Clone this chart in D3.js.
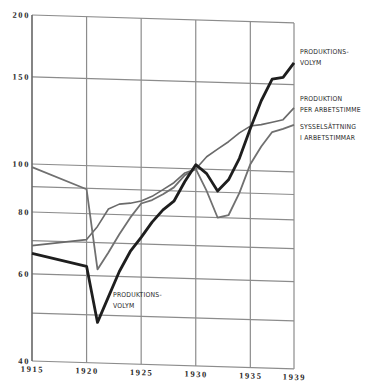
<!DOCTYPE html>
<html><head><meta charset="utf-8">
<script src="https://cdn.jsdelivr.net/npm/d3@7"></script>
<style>body{margin:0;background:#fff}svg{display:block}</style>
</head><body>
<svg id="c" width="381" height="382"></svg>
<script>
const years = [1915,1920,1921,1922,1923,1924,1925,1926,1927,1928,1929,1930,1931,1932,1933,1934,1935,1936,1937,1938,1939];
const produktionsvolym = [66,62.6,48.3,54.5,61.4,67.5,72.2,77.6,82.3,85.8,94.2,102,98,90.5,95.5,105.7,121.6,138.6,153.5,155,166];
const sysselsattning = [98.6,89.6,61.8,67,73,79,84.5,86,88.5,91.5,97,100,90.4,80,81,90,103,112,120,122,124.4];
const perArbetstimme = [68.4,70.9,75.5,82,84,84.5,85.5,87.5,90.4,93.5,98,100,106,110,114,119,123,124,125.6,127.3,134.7];
const yTicks = [40,60,80,100,150,200];
const yGrid = [40,50,60,70,80,90,100,150,200];
const xTicks = [1915,1920,1925,1930,1935,1939];

const svg = d3.select("#c");
const x = d3.scaleLinear().domain([1915,1939]).range([32,294]);
const y = d3.scaleLog().domain([40,200]).range([361,15]);
const s = 0.03;
const g = svg.append("g").attr("transform", `matrix(1,${s},0,1,0,${-32*s})`);

g.selectAll(".hg").data(yGrid).join("line")
  .attr("x1", x(1915)).attr("x2", x(1939))
  .attr("y1", d=>y(d)).attr("y2", d=>y(d))
  .attr("stroke", "#8c8c8c").attr("stroke-width", 1.2);
g.selectAll(".vg").data(xTicks).join("line")
  .attr("x1", d=>x(d)).attr("x2", d=>x(d))
  .attr("y1", y(200)).attr("y2", y(40))
  .attr("stroke", d=> d===1915 ? "#666" : "#8c8c8c").attr("stroke-width", d=> d===1915 ? 1.6 : 1.2);

const tickStyle = sel => sel.attr("font-family","Liberation Serif").attr("font-weight","bold")
  .attr("font-size",8.5).attr("letter-spacing",1.6).attr("fill","#2a2a2a");

const yAxis = d3.axisLeft(y).tickValues(yTicks).tickFormat(d3.format("d")).tickSize(0).tickPadding(2);
const ya = g.append("g").attr("transform", `translate(${x(1915)},0)`).call(yAxis);
ya.select(".domain").remove();
ya.selectAll("text").call(tickStyle);

const xAxis = d3.axisBottom(x).tickValues(xTicks).tickFormat(d3.format("d")).tickSize(0).tickPadding(5);
const xa = g.append("g").attr("transform", `translate(0,${y(40)})`).call(xAxis);
xa.select(".domain").remove();
xa.selectAll("text").call(tickStyle);

const line = vals => d3.line().x((d,i)=>x(years[i])).y(d=>y(d))(vals);
g.append("path").attr("d", line(perArbetstimme)).attr("fill","none").attr("stroke","#6a6a6a").attr("stroke-width",1.6).attr("stroke-linejoin","round");
g.append("path").attr("d", line(sysselsattning)).attr("fill","none").attr("stroke","#707070").attr("stroke-width",1.8).attr("stroke-linejoin","round");
g.append("path").attr("d", line(produktionsvolym)).attr("fill","none").attr("stroke","#1e1e1e").attr("stroke-width",2.8).attr("stroke-linejoin","round");

const labels = [
  {t:["PRODUKTIONS-","VOLYM"], x:300, y:52},
  {t:["PRODUKTION","PER ARBETSTIMME"], x:300, y:99},
  {t:["SYSSELSÄTTNING","I ARBETSTIMMAR"], x:300, y:127},
  {t:["PRODUKTIONS-","VOLYM"], x:113, y:295}
];
labels.forEach(l=>{
  const t = svg.append("text").attr("font-family","DejaVu Sans Condensed, DejaVu Sans").attr("font-size",6.8).attr("fill","#2a2a2a").attr("letter-spacing",0.2);
  l.t.forEach((s,i)=>t.append("tspan").attr("x",l.x).attr("y",l.y+i*11).attr("dy","0.35em").text(s));
});
</script>
</body></html>
